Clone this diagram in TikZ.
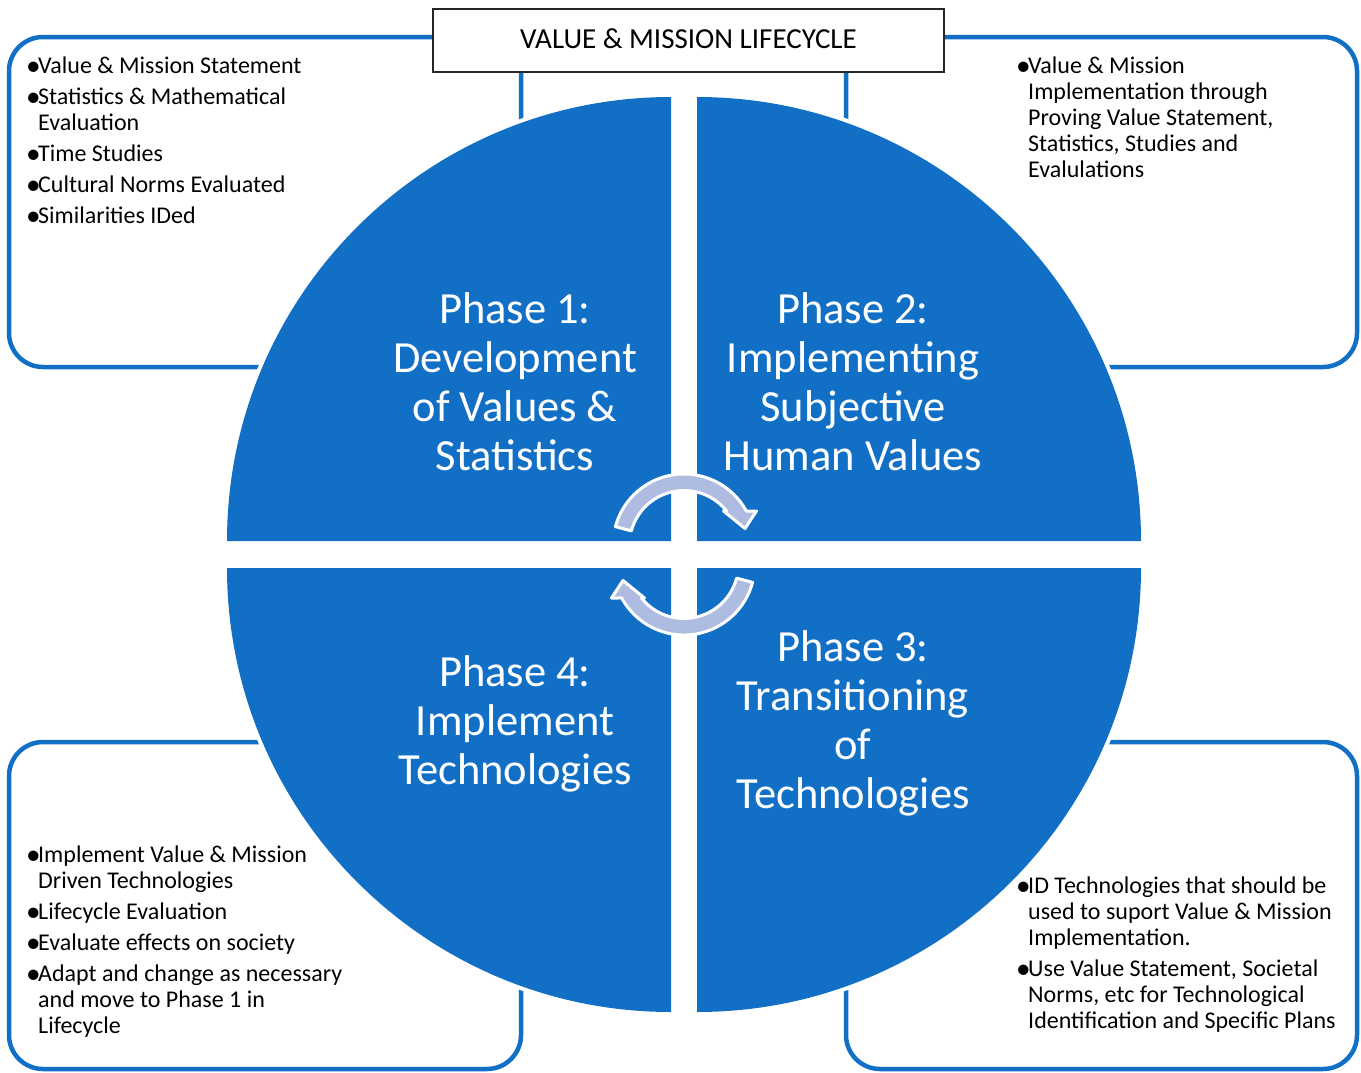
\documentclass[tikz,border=0pt]{standalone}
\usepackage{graphicx}
\usepackage{fontspec}
\setmainfont{Carlito}
\definecolor{qblue}{RGB}{17,112,198}
\definecolor{arrowfill}{RGB}{175,188,225}
\newcommand\notebullet{\makebox[10pt][l]{\hspace{-2pt}\raisebox{-2pt}{\scalebox{1.22}{\textbullet}}}}
\newcommand\noteindent{\hspace*{10pt}}
\begin{document}
\begin{tikzpicture}[x=1pt,y=1pt,yscale=-1,
  notebox/.style={draw=qblue, line width=4.5pt, fill=white, rounded corners=34pt},
  quadhalo/.style={draw=white, line width=8pt},
  quadfill/.style={fill=qblue},
  phasetext/.style={text=white, align=center, anchor=north, inner sep=0pt,
    font=\fontsize{44.5}{49}\selectfont},
  notetext/.style={align=left, anchor=north west, inner sep=0pt,
    font=\fontsize{24}{26}\selectfont},
  titlebox/.style={draw=black!85, line width=2pt, fill=white, inner sep=0pt,
    minimum width=511pt, minimum height=63pt, text height=18pt, text depth=3pt,
    font=\fontsize{29}{34}\selectfont},
  cyclearrow/.style={fill=arrowfill, draw=white, line width=3pt, line join=round}]
\useasboundingbox (0,0) rectangle (1361,1072);

% note boxes behind the wheel
\draw[notebox] (9,37) rectangle (521,367);
\draw[notebox] (846,37) rectangle (1357,367);
\draw[notebox] (9,742) rectangle (521,1069);
\draw[notebox] (846,742) rectangle (1357,1069);

% title
\node[titlebox] (title) at (688.5,40.5) {VALUE \& MISSION LIFECYCLE};

% the four quarter discs, each with a white halo
\foreach \style in {quadhalo,quadfill}{
  \path[\style] (671,541) -- (227,541) arc[start angle=180, end angle=270, radius=444] -- cycle;
  \path[\style] (697,541) -- (697,97) arc[start angle=270, end angle=360, radius=444] -- cycle;
  \path[\style] (697,568) -- (1141,568) arc[start angle=0, end angle=90, radius=444] -- cycle;
  \path[\style] (671,568) -- (671,1012) arc[start angle=90, end angle=180, radius=444] -- cycle;
}

% phase labels
\node[phasetext] (phase1) at (515,283) {\rule{0pt}{40pt}Phase 1:\\Development\\of Values \&\\Statistics};
\node[phasetext] (phase2) at (853,283) {\rule{0pt}{40pt}Phase 2:\\Implementing\\Subjective\\Human Values};
\node[phasetext] (phase3) at (853,621) {\rule{0pt}{40pt}Phase 3:\\Transitioning\\of\\Technologies};
\node[phasetext] (phase4) at (515,646) {\rule{0pt}{40pt}Phase 4:\\Implement\\Technologies};

% circular arrows in the middle
\begin{scope}[shift={(684,545)}]
  \path[cyclearrow] (195:71) arc[start angle=195, end angle=331.4, radius=71]
    -- (72.5,-34) -- (61,-16.5) -- (39.5,-34) -- (321.4:54.5)
    arc[start angle=321.4, end angle=195, radius=54.5] -- cycle;
\end{scope}
\begin{scope}[shift={(684,564)}, rotate=180]
  \path[cyclearrow] (195:71) arc[start angle=195, end angle=331.4, radius=71]
    -- (72.5,-34) -- (61,-16.5) -- (39.5,-34) -- (321.4:54.5)
    arc[start angle=321.4, end angle=195, radius=54.5] -- cycle;
\end{scope}

% note texts
\node[notetext] (note1) at (28,53) {\rule{0pt}{20pt}\notebullet Value \& Mission Statement\\[5pt]
  \notebullet Statistics \& Mathematical\\
  \noteindent Evaluation\\[5pt]
  \notebullet Time Studies\\[5pt]
  \notebullet Cultural Norms Evaluated\\[5pt]
  \notebullet Similarities IDed};
\node[notetext] (note2) at (1018,53) {\rule{0pt}{20pt}\notebullet Value \& Mission\\
  \noteindent Implementation through\\
  \noteindent Proving Value Statement,\\
  \noteindent Statistics, Studies and\\
  \noteindent Evalulations};
\node[notetext] (note4) at (28,842) {\rule{0pt}{20pt}\notebullet Implement Value \& Mission\\
  \noteindent Driven Technologies\\[5pt]
  \notebullet Lifecycle Evaluation\\[5pt]
  \notebullet Evaluate effects on society\\[5pt]
  \notebullet Adapt and change as necessary\\
  \noteindent and move to Phase 1 in\\
  \noteindent Lifecycle};
\node[notetext] (note3) at (1018,873) {\rule{0pt}{20pt}\notebullet ID Technologies that should be\\
  \noteindent used to suport Value \& Mission\\
  \noteindent Implementation.\\[5pt]
  \notebullet Use Value Statement, Societal\\
  \noteindent Norms, etc for Technological\\
  \noteindent Identification and Specific Plans};
\end{tikzpicture}
\end{document}
